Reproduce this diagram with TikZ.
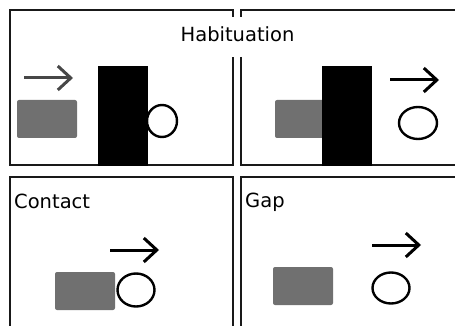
\documentclass[tikz,border=0pt]{standalone}
\usepackage{fontspec}
\setmainfont{DejaVu Sans}
\usetikzlibrary{arrows.meta}
\definecolor{blockgray}{RGB}{112,112,112}
\definecolor{framecol}{RGB}{25,25,25}
\tikzset{
  frame/.style={draw=framecol, line width=2.2pt},
  lbl/.style={inner sep=0pt, font=\fontsize{19.5}{23}\selectfont},
  block/.style={fill=blockgray, rounded corners=2pt},
  wall/.style={fill=black},
  ball/.style={draw=black, line width=2.4pt, fill=white},
  motion/.style={line width=3pt, -{Straight Barb[length=13pt,width=24pt,line width=3pt]}},
}
\begin{document}
\begin{tikzpicture}[x=1pt,y=-1pt]
\useasboundingbox (0,0) rectangle (455,326);
\begin{scope}
\clip (0,0) rectangle (455,326);
% panel frames
\draw[frame] (233,17) -- (233,10) -- (10,10) -- (10,165) -- (233,165) -- (233,57);
\draw[frame] (241,17) -- (241,10) -- (470,10);
\draw[frame] (241,57) -- (241,165) -- (470,165);
\draw[frame] (10,340) -- (10,177) -- (233,177) -- (233,340);
\draw[frame] (241,340) -- (241,177) -- (470,177);

% Habituation left
\node[lbl, anchor=base] (hab) at (237.5,42) {Habituation};
\coordinate (a1s) at (24,78); \coordinate (a1e) at (73,78);
\draw[motion, draw=framecol!80] (a1s) -- (a1e);
\fill[block] (17,100) rectangle (77,138);
\draw[ball] (162,121) ellipse [x radius=15, y radius=16];
\fill[wall] (98,66) rectangle (148,166);

% Habituation right
\fill[block] (275,100) rectangle (330,138);
\fill[wall] (322,66) rectangle (372,166);
\coordinate (a2s) at (390,80); \coordinate (a2e) at (439,80);
\draw[motion] (a2s) -- (a2e);
\draw[ball] (418,123) ellipse [x radius=19, y radius=16];

% Contact
\node[lbl, anchor=base west] (contact) at (14,208) {Contact};
\coordinate (a3s) at (110,250); \coordinate (a3e) at (159,250);
\draw[motion] (a3s) -- (a3e);
\fill[block] (55,272) rectangle (115,310);
\draw[ball] (136,290) ellipse [x radius=18.5, y radius=16.5];

% Gap
\node[lbl, anchor=base west] (gap) at (245,207) {Gap};
\coordinate (a4s) at (372,245); \coordinate (a4e) at (421,245);
\draw[motion] (a4s) -- (a4e);
\fill[block] (273,267) rectangle (333,305);
\draw[ball] (391,288) ellipse [x radius=18.5, y radius=15.5];
\end{scope}
\end{tikzpicture}
\end{document}
